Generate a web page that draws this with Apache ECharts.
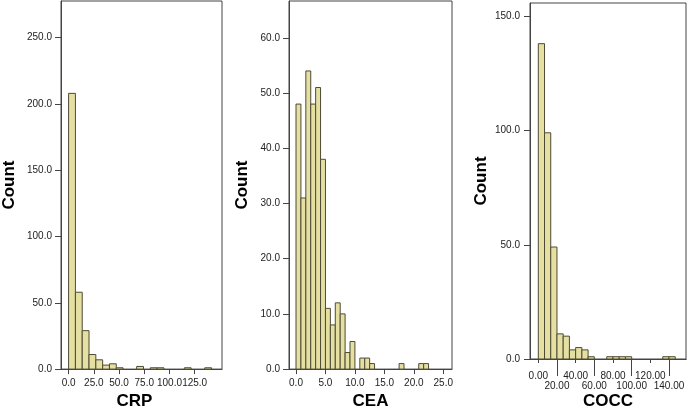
<!DOCTYPE html>
<html>
<head>
<meta charset="utf-8">
<script src="https://cdn.jsdelivr.net/npm/echarts@6/dist/echarts.min.js"></script>
<style>
html,body{margin:0;padding:0;background:#fff;}
#chart{width:688px;height:415px;}
</style>
</head>
<body>
<div id="chart"></div>
<script>
// ---- Data ----
// CRP histogram: bins start at 0, width 6.75
const crpBinWidth = 6.75;
const crpCounts = [208, 58, 29, 11, 7, 3, 4, 1, 0, 0, 2, 0, 1, 1, 0, 0, 0, 1, 0, 0, 1];
const crpTicks = [0, 25, 50, 75, 100, 125];
const crpYTicks = [0, 50, 100, 150, 200, 250];

// CEA histogram: bins start at 0, width 5/6
const ceaBinWidth = 5 / 6;
const ceaCounts = [48, 31, 54, 48, 51, 38, 11, 8, 12, 10, 3, 5, 0, 2, 2, 1, 0, 0, 0, 0, 0, 1, 0, 0, 0, 1, 1];
const ceaTicks = [0, 5, 10, 15, 20, 25];
const ceaYTicks = [0, 10, 20, 30, 40, 50, 60];

// COCC histogram: bins start at 0, width 20/3
const coccBinWidth = 20 / 3;
const coccCounts = [138, 99, 49, 11, 10, 4, 5, 4, 1, 0, 0, 1, 1, 1, 1, 0, 0, 0, 0, 0, 1, 1];
const coccTicksRow1 = [0, 40, 80, 120];
const coccTicksRow2 = [20, 60, 100, 140];
const coccYTicks = [0, 50, 100, 150];

const titles = ['CRP', 'CEA', 'COCC'];

// ---- Build ----
function bins(counts, w) {
  const out = [];
  counts.forEach((c, i) => { if (c > 0) out.push([i * w, (i + 1) * w, c]); });
  return out;
}
const FILL = '#e5e0a2';
const STROKE = '#4d4b35';
function renderBar(params, api) {
  const p0 = api.coord([api.value(0), 0]);
  const p1 = api.coord([api.value(1), api.value(2)]);
  return {
    type: 'rect',
    shape: { x: p0[0], y: p1[1], width: p1[0] - p0[0], height: p0[1] - p1[1] },
    style: { fill: FILL, stroke: STROKE, lineWidth: 1 }
  };
}
const FONT = 'Liberation Sans, Arial, sans-serif';
const LABEL = { color: '#222', fontSize: 10, fontFamily: FONT };
const NAME = { color: '#000', fontSize: 17, fontWeight: 'bold', fontFamily: FONT };
const LINE = { lineStyle: { color: '#444', width: 1 } };

function xAxis(gi, min, max, ticks, fmt, name, opts) {
  return Object.assign({
    type: 'value', gridIndex: gi, min: min, max: max, position: 'bottom',
    axisLine: { show: true, onZero: false, ...LINE },
    axisTick: { show: true, length: 5, customValues: ticks, ...LINE },
    axisLabel: Object.assign({ customValues: ticks, margin: 9, formatter: v => v.toFixed(fmt) }, LABEL),
    splitLine: { show: false },
    name: name, nameLocation: 'middle', nameGap: 20, nameTextStyle: NAME
  }, opts || {});
}
function yAxis(gi, max, ticks, gap, margin) {
  return {
    type: 'value', gridIndex: gi, min: 0, max: max, position: 'left',
    axisLine: { show: true, onZero: false, ...LINE },
    axisTick: { show: true, length: 6, customValues: ticks, ...LINE },
    axisLabel: Object.assign({ customValues: ticks, margin: margin, formatter: v => v.toFixed(1) }, LABEL),
    splitLine: { show: false },
    name: 'Count', nameLocation: 'middle', nameRotate: 90, nameGap: gap, nameTextStyle: NAME
  };
}
const gridStyle = { show: true, borderColor: '#444', borderWidth: 1, backgroundColor: 'transparent' };

const option = {
  animation: false,
  grid: [
    Object.assign({ left: 59, top: 1, width: 163, height: 373 }, gridStyle),
    Object.assign({ left: 289, top: 1, width: 163, height: 373 }, gridStyle),
    Object.assign({ left: 530, top: 3, width: 156, height: 360 }, gridStyle)
  ],
  xAxis: [
    xAxis(0, -7.54, 152.1, crpTicks, 1, titles[0], { nameGap: 20, nameTextStyle: Object.assign({ padding: [0, 14, 0, 0] }, NAME) }),
    xAxis(1, -1.19, 26.48, ceaTicks, 1, titles[1], { nameGap: 20 }),
    xAxis(2, -8.89, 158.2, coccTicksRow1, 2, titles[2], {
      nameGap: 34,
      axisTick: { show: true, length: 4, customValues: coccTicksRow1, ...LINE },
      axisLabel: Object.assign({ customValues: coccTicksRow1, margin: 12, formatter: v => v.toFixed(2) }, LABEL)
    }),
    xAxis(2, -8.89, 158.2, coccTicksRow2, 2, '', {
      axisTick: { show: true, length: 17, customValues: coccTicksRow2, ...LINE },
      axisLabel: Object.assign({ customValues: coccTicksRow2, margin: 22, formatter: v => v.toFixed(2) }, LABEL)
    })
  ],
  yAxis: [
    yAxis(0, 277.7, crpYTicks, 43, 9),
    yAxis(1, 66.67, ceaYTicks, 38.5, 9),
    yAxis(2, 155.8, coccYTicks, 40, 10)
  ],
  series: [
    { type: 'custom', xAxisIndex: 0, yAxisIndex: 0, renderItem: renderBar, encode: { x: [0, 1], y: 2 }, data: bins(crpCounts, crpBinWidth) },
    { type: 'custom', xAxisIndex: 1, yAxisIndex: 1, renderItem: renderBar, encode: { x: [0, 1], y: 2 }, data: bins(ceaCounts, ceaBinWidth) },
    { type: 'custom', xAxisIndex: 2, yAxisIndex: 2, renderItem: renderBar, encode: { x: [0, 1], y: 2 }, data: bins(coccCounts, coccBinWidth) }
  ]
};
const chart = echarts.init(document.getElementById('chart'), null, { renderer: 'canvas' });
chart.setOption(option);
</script>
</body>
</html>
